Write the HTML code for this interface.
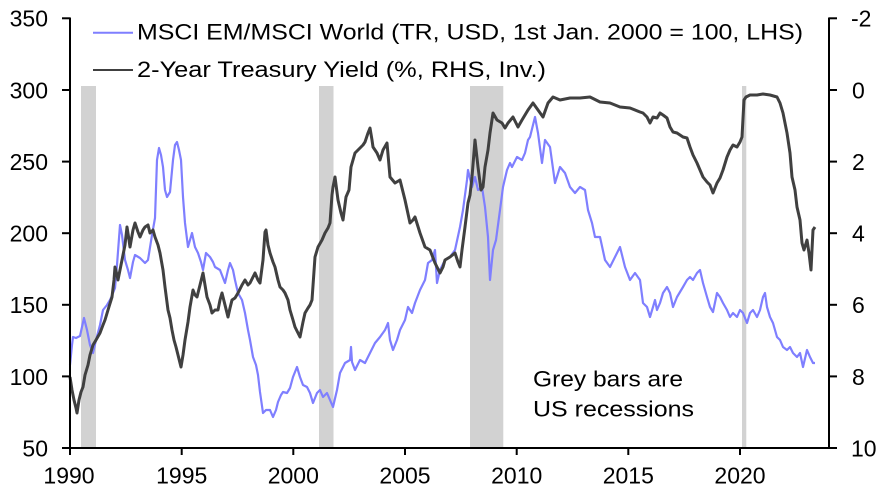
<!DOCTYPE html>
<html>
<head>
<meta charset="utf-8">
<style>
  html, body { margin:0; padding:0; background:#ffffff; }
  svg { display:block; }
  text { font-family: "Liberation Sans", Arial, sans-serif; fill:#000; }
</style>
</head>
<body>
<svg width="884" height="492" viewBox="0 0 884 492" xmlns="http://www.w3.org/2000/svg">
  <rect x="0" y="0" width="884" height="492" fill="#ffffff"/>

  <!-- Recession bars -->
  <g fill="#d2d2d2">
    <rect x="81" y="86" width="15" height="362"/>
    <rect x="319" y="86" width="14.5" height="362"/>
    <rect x="470" y="86" width="33.3" height="362"/>
    <rect x="742" y="86" width="4.3" height="362"/>
  </g>

  <!-- MSCI EM / MSCI World (blue) -->
  <polyline fill="none" stroke="#7f7fff" stroke-width="2.2" stroke-linejoin="round" points="
70,365 72,345 73,337 76,338 80,336 84,318 87,330 90,345 93,353 96,340 100,325 103,310 107,305 110,300 113,293 115,288 117,265 120,225 122,235 125,260 128,270 130,278 133,262 135,255 140,258 145,263 148,260 152,235 155,218 157,160 159,148 161,155 163,167 165,190 167,197 170,192 173,160 175,145 177,142 179,150 181,160 183,197 185,223 188,247 190,240 192,233 195,247 198,253 201,262 203,270 206,253 210,257 213,262 215,267 220,270 225,283 228,270 230,263 233,270 235,280 238,293 242,300 245,313 248,330 250,340 253,357 256,365 258,375 260,392 263,413 266,410 270,410 273,417 276,410 278,402 281,395 283,392 287,393 290,388 293,377 297,367 300,377 303,385 307,387 310,393 313,403 317,393 320,390 323,397 327,393 330,400 333,407 337,390 340,373 345,363 350,360 351,347 352,362 355,370 360,360 365,363 370,353 375,343 380,337 385,330 388,323 390,340 393,350 397,340 400,330 405,320 408,307 412,313 415,303 420,290 425,280 428,263 432,260 435,250 437,283 440,270 445,260 450,257 455,250 460,227 463,210 467,180 468,170 472,187 475,177 478,190 482,187 485,207 488,237 490,280 493,250 496,240 500,210 503,187 507,170 510,163 512,167 517,157 522,160 525,153 528,140 530,137 535,117 538,133 542,163 545,140 550,147 555,183 560,167 565,173 570,187 575,193 580,187 585,190 588,210 592,223 595,237 600,237 605,260 610,267 615,257 620,247 625,267 630,280 635,273 640,280 643,303 647,307 650,317 653,307 655,300 657,310 660,303 663,293 667,287 670,293 673,307 677,297 680,292 683,287 687,280 690,277 693,280 697,273 700,270 703,283 707,297 710,307 713,312 717,293 720,297 723,303 727,310 730,317 733,313 737,317 740,310 743,313 747,323 750,313 753,310 757,317 760,310 763,297 765,293 767,307 770,317 773,323 777,337 780,340 783,347 787,350 790,347 793,353 797,357 800,353 803,367 807,350 810,357 813,363 815,363"/>

  <!-- 2-Year Treasury Yield inverted (dark grey) -->
  <polyline fill="none" stroke="#404040" stroke-width="3" stroke-linejoin="round" points="
70,377 72,390 74,400 76,408 77,413 79,400 81,392 83,387 85,375 88,365 90,355 93,345 96,340 100,333 103,325 105,320 108,310 112,297 114,280 115,267 117,275 118,280 120,270 122,260 125,245 127,227 129,240 130,247 133,230 135,223 138,232 140,237 143,230 145,227 148,225 150,233 153,230 155,237 158,245 160,253 163,270 165,287 168,310 170,318 172,330 174,340 176,347 178,355 181,367 183,355 185,340 188,322 190,307 193,290 195,295 197,297 200,285 203,273 205,285 207,297 210,305 212,313 215,310 218,310 220,300 222,293 225,305 228,317 230,308 232,300 235,298 238,293 242,285 245,280 248,285 250,283 253,277 255,273 258,280 260,283 263,260 265,232 266,230 268,245 270,253 273,262 275,267 278,280 280,287 283,290 285,293 288,300 290,310 293,320 295,327 298,333 300,337 303,322 305,313 308,308 310,305 312,300 315,257 318,247 322,240 325,233 328,228 330,223 332,195 333,187 335,177 338,200 341,213 343,220 346,197 349,190 351,167 355,153 360,148 363,145 365,142 368,133 370,128 372,140 373,147 377,153 380,160 383,150 387,143 390,177 395,183 400,180 405,200 410,223 413,220 415,217 420,233 425,247 430,250 435,263 440,273 443,267 445,260 450,257 455,253 458,262 460,267 462,250 465,227 468,203 470,195 472,177 475,140 478,167 481,190 483,187 485,167 488,150 490,133 493,113 497,120 502,123 505,128 508,123 513,117 518,127 522,120 528,110 533,103 538,110 543,117 548,103 553,97 560,100 570,98 580,98 590,97 600,102 610,103 620,107 630,108 640,112 643,113 647,117 650,123 653,117 657,118 660,113 663,115 667,118 670,127 673,132 677,133 680,135 683,137 687,138 690,147 693,155 697,163 700,170 703,177 707,182 710,185 713,193 717,183 720,178 723,170 727,157 730,150 733,145 737,147 740,142 742,137 744,100 746,97 750,95 757,95 763,94 770,95 777,97 780,103 783,113 787,133 790,153 792,177 795,190 797,207 800,220 802,243 804,250 807,240 809,253 811,270 813,230 815,227"/>

  <!-- Axes -->
  <g stroke="#000" stroke-width="2" fill="none">
    <line x1="70" y1="17.5" x2="70" y2="449"/>
    <line x1="829" y1="17.5" x2="829" y2="449"/>
    <line x1="62" y1="448" x2="837" y2="448"/>
    <!-- left ticks -->
    <line x1="62" y1="18.3" x2="70" y2="18.3"/>
    <line x1="62" y1="90" x2="70" y2="90"/>
    <line x1="62" y1="161.6" x2="70" y2="161.6"/>
    <line x1="62" y1="233.2" x2="70" y2="233.2"/>
    <line x1="62" y1="304.8" x2="70" y2="304.8"/>
    <line x1="62" y1="376.4" x2="70" y2="376.4"/>
    <!-- right ticks -->
    <line x1="829" y1="18.3" x2="837" y2="18.3"/>
    <line x1="829" y1="90" x2="837" y2="90"/>
    <line x1="829" y1="161.6" x2="837" y2="161.6"/>
    <line x1="829" y1="233.2" x2="837" y2="233.2"/>
    <line x1="829" y1="304.8" x2="837" y2="304.8"/>
    <line x1="829" y1="376.4" x2="837" y2="376.4"/>
    <!-- x ticks -->
    <line x1="70" y1="448" x2="70" y2="455"/>
    <line x1="181.7" y1="448" x2="181.7" y2="455"/>
    <line x1="293.3" y1="448" x2="293.3" y2="455"/>
    <line x1="405" y1="448" x2="405" y2="455"/>
    <line x1="516.7" y1="448" x2="516.7" y2="455"/>
    <line x1="628.3" y1="448" x2="628.3" y2="455"/>
    <line x1="740" y1="448" x2="740" y2="455"/>
  </g>

  <!-- Left axis labels -->
  <g font-size="23" text-anchor="end">
    <text x="48" y="26.7">350</text>
    <text x="48" y="98.4">300</text>
    <text x="48" y="170">250</text>
    <text x="48" y="241.6">200</text>
    <text x="48" y="313.2">150</text>
    <text x="48" y="384.8">100</text>
    <text x="48" y="456.4">50</text>
  </g>

  <!-- Right axis labels -->
  <g font-size="23" text-anchor="start">
    <text x="851" y="26.7">-2</text>
    <text x="852" y="98.4">0</text>
    <text x="852" y="170">2</text>
    <text x="852" y="241.6">4</text>
    <text x="852" y="313.2">6</text>
    <text x="852" y="384.8">8</text>
    <text x="851" y="456.4">10</text>
  </g>

  <!-- X axis labels -->
  <g font-size="23" text-anchor="middle">
    <text x="69" y="483.5">1990</text>
    <text x="181.7" y="483.5">1995</text>
    <text x="293.3" y="483.5">2000</text>
    <text x="405" y="483.5">2005</text>
    <text x="516.7" y="483.5">2010</text>
    <text x="628.3" y="483.5">2015</text>
    <text x="740" y="483.5">2020</text>
  </g>

  <!-- Legend -->
  <line x1="93" y1="32.7" x2="133" y2="32.7" stroke="#7f7fff" stroke-width="2"/>
  <line x1="93" y1="70" x2="133" y2="70" stroke="#404040" stroke-width="2"/>
  <text x="137" y="39.5" font-size="22.5" textLength="666" lengthAdjust="spacingAndGlyphs">MSCI EM/MSCI World (TR, USD, 1st Jan. 2000 = 100, LHS)</text>
  <text x="137" y="76.8" font-size="22.5" textLength="409" lengthAdjust="spacingAndGlyphs">2-Year Treasury Yield (%, RHS, Inv.)</text>

  <!-- Annotation -->
  <text x="533" y="386.7" font-size="22.5" textLength="150" lengthAdjust="spacingAndGlyphs">Grey bars are</text>
  <text x="533" y="416.7" font-size="22.5" textLength="161" lengthAdjust="spacingAndGlyphs">US recessions</text>
</svg>
</body>
</html>
